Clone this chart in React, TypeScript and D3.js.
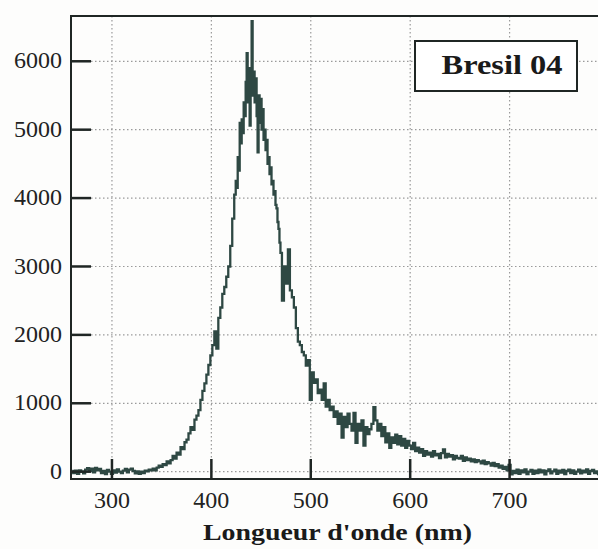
import React from "react";
import * as d3 from "d3";

// Spectrum split in segments: [start wavelength (nm), step (nm), intensities]
const baselineValues = [10, -20, 15, -30, 20, 0, -25, 30, 50, 10, 45, -10, 55, 20, 40, -20, 10, -35, 25, 0, -30, 20, -15, 35, 0, -20, 15, 40, -10, 30, 45, 10, -25, 5, -30, 0, -20, 15, 5, 30, 20];
const riseValues = [45, 20, 60, 90, 70, 110, 95, 150, 120, 170, 230, 190, 280, 250, 360, 330, 430, 470, 560, 650, 610, 760, 820, 900, 1050, 1180, 1290, 1420, 1560, 1700, 1850, 2050, 1800, 2250, 2400, 2600, 2700, 2850, 3000, 3300, 3700];
const peakValues = [4050, 4250, 4150, 4600, 4400, 5100, 4800, 5150, 4950, 5400, 5200, 5700, 6120, 5400, 5900, 5060, 5800, 6585, 5500, 5850, 5400, 5750, 5200, 4670, 5500, 5100, 5450, 5000, 5300, 4850, 5000, 4700, 4850, 4500, 4600, 4350, 4450, 4200, 4250, 4050, 4100, 3900, 3850, 3650, 3550, 3350, 3200];
const shoulderValues = [2500, 3000, 2750, 3250, 2650, 2550, 2400, 2100, 1900, 1850, 1750, 1700, 1550, 1630];
const tailValues = [1050, 1450, 1300, 1350, 1150, 1200, 1050, 1290, 950, 1050, 900, 950, 800, 880, 700, 850, 500, 800, 650, 850, 700, 600, 860, 420, 700, 600, 750, 380, 650, 550, 620, 700, 945, 750, 600, 700, 520, 650, 430, 560, 350, 500, 420, 540, 400, 520, 380, 480, 350, 450, 380, 330, 420, 300, 350, 280, 330, 230, 300, 250, 280, 220, 300, 240, 260, 200, 270, 325, 210, 260, 220, 240, 180, 230, 200, 190, 230, 160, 210, 170, 190, 150, 180, 140, 170, 150, 120, 160, 110, 140, 120, 90, 130, 80, 110, 60, 90, 40, 70, 20, 100];
const farValues = [-40, 10, -20, 30, -30, 20, -10, 35, -35, 0, 25, -30, 15, -20, 30, -10, 20, -40, 10, 35, -25, 5, 30, -30, 15, -15, 25, -35, 10, 30, -20, 20, -30, 0, 30, -25, 15, -10, 35, -30, 10, 25, -20, 5, -35, 20, -10, 30, -20];

const xTicks = [300, 400, 500, 600, 700];
const xGrid = [300, 400, 500, 600, 700, 800];
const yTicks = [0, 1000, 2000, 3000, 4000, 5000, 6000];
const xLabel = "Longueur d'onde (nm)";
const legendLabel = "Bresil 04";

const segments: [number, number, number[]][] = [
  [260, 2, baselineValues],
  [342, 2, riseValues],
  [424, 1, peakValues],
  [472, 2, shoulderValues],
  [500, 2, tailValues],
  [702, 2, farValues],
];
const data: { nm: number; v: number }[] = [];
segments.forEach(([start, step, vals]) => vals.forEach((v, i) => data.push({ nm: start + i * step, v })));

export default function App() {
  const W = 598, H = 549;
  const left = 71, right = 609, top = 16, bottom = 479;
  const x = d3.scaleLinear().domain([258.8, 800]).range([left, right]);
  const y = d3.scaleLinear().domain([-107, 6662]).range([bottom, top]);
  const line = d3.line<{ nm: number; v: number }>().x(d => x(d.nm)).y(d => y(d.v)).curve(d3.curveStep);
  const font = "'Liberation Serif', 'Times New Roman', serif";
  const ink = "#1f2624";
  return (
    <svg width={W} height={H} style={{ position: "absolute", left: 0, top: 0, background: "#fdfdfc" }}>
      <defs>
        <clipPath id="plot">
          <rect x={left} y={top} width={right - left} height={bottom - top} />
        </clipPath>
      </defs>
      {/* grid */}
      {xGrid.map(t => (
        <line key={"gx" + t} x1={x(t)} x2={x(t)} y1={top} y2={bottom} stroke="#9a9a9a" strokeWidth={1.2} strokeDasharray="1.5,2.5" />
      ))}
      {yTicks.map(t => (
        <line key={"gy" + t} x1={left} x2={right} y1={y(t)} y2={y(t)} stroke="#9a9a9a" strokeWidth={1.2} strokeDasharray="1.5,2.5" />
      ))}
      {/* data */}
      <path d={line(data) || ""} fill="none" stroke="#2e4843" strokeWidth={2.3} strokeLinejoin="miter" clipPath="url(#plot)" />
      {/* frame */}
      <line x1={left} x2={W} y1={top} y2={top} stroke={ink} strokeWidth={2} />
      <line x1={left} x2={left} y1={top - 1} y2={bottom + 1} stroke={ink} strokeWidth={2} />
      <line x1={left} x2={W} y1={bottom} y2={bottom} stroke={ink} strokeWidth={2} />
      {/* ticks */}
      {yTicks.map(t => (
        <g key={"ty" + t}>
          <line x1={left} x2={left + 20} y1={y(t)} y2={y(t)} stroke={ink} strokeWidth={2.5} />
          <text x={left - 9} y={y(t)} dy="0.3em" textAnchor="end" fontFamily={font} fontSize={24} fill="#222">{t}</text>
        </g>
      ))}
      {xTicks.map(t => (
        <g key={"tx" + t}>
          <line x1={x(t)} x2={x(t)} y1={bottom} y2={bottom - 20} stroke={ink} strokeWidth={2.5} />
          <text x={x(t)} y={508} textAnchor="middle" fontFamily={font} fontSize={24} fill="#222">{t}</text>
        </g>
      ))}
      {/* axis title */}
      <text x={337.5} y={540} textAnchor="middle" fontFamily={font} fontWeight="bold" fontSize={24} fill="#1a1a1a" textLength={269} lengthAdjust="spacingAndGlyphs">{xLabel}</text>
      {/* legend box */}
      <rect x={415} y={41} width={162} height={50} fill="#ffffff" stroke={ink} strokeWidth={2} />
      <text x={502} y={74} textAnchor="middle" fontFamily={font} fontWeight="bold" fontSize={28} fill="#1a1a1a" textLength={121} lengthAdjust="spacingAndGlyphs">{legendLabel}</text>
    </svg>
  );
}
